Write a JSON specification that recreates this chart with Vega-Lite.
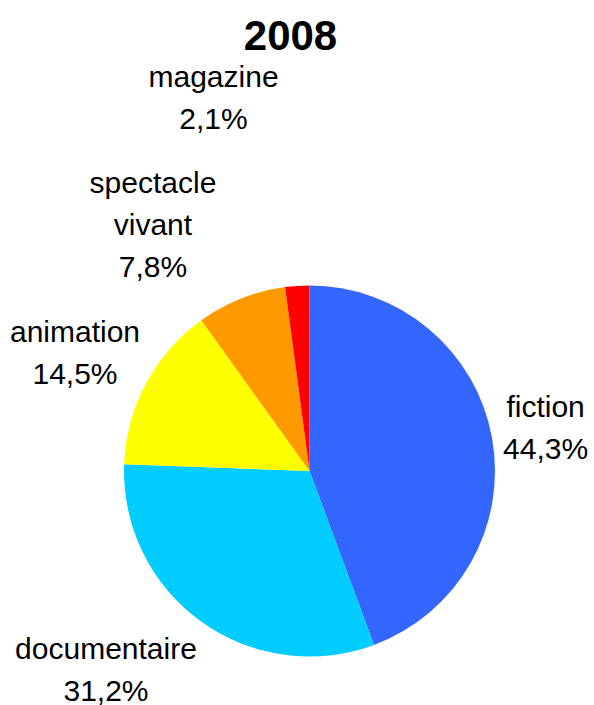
{
  "$schema": "https://vega.github.io/schema/vega-lite/v6.json",
  "autosize": {"type": "none"},
  "width": 371,
  "height": 371,
  "padding": {"left": 124, "top": 285.5, "right": 99, "bottom": 48.5},
  "background": "white",
  "config": {"view": {"stroke": null}},
  "title": {
    "text": "2008",
    "font": "Liberation Sans",
    "fontSize": 42,
    "fontWeight": "bold",
    "color": "black",
    "anchor": "middle",
    "dx": -19
  },
  "data": {
    "values": [
      {"genre": "fiction", "share": 44.3, "lines": ["fiction", "44,3%"]},
      {"genre": "documentaire", "share": 31.2, "lines": ["documentaire", "31,2%"]},
      {"genre": "animation", "share": 14.5, "lines": ["animation", "14,5%"]},
      {"genre": "spectacle vivant", "share": 7.8, "lines": ["spectacle", "vivant", "7,8%"]},
      {"genre": "magazine", "share": 2.1, "lines": ["magazine", "2,1%"]}
    ]
  },
  "encoding": {
    "theta": {"field": "share", "type": "quantitative", "stack": true},
    "order": {"field": "share", "type": "quantitative", "sort": "descending"}
  },
  "layer": [
    {
      "mark": {"type": "arc", "stroke": null},
      "encoding": {
        "color": {
          "field": "genre",
          "type": "nominal",
          "scale": {
            "domain": ["fiction", "documentaire", "animation", "spectacle vivant", "magazine"],
            "range": ["#3366FF", "#00CCFF", "#FFFF00", "#FF9900", "#FF0000"]
          },
          "legend": null
        }
      }
    },
    {
      "mark": {
        "type": "text",
        "radius": 230,
        "align": "center",
        "baseline": "alphabetic",
        "font": "Liberation Sans",
        "fontSize": 30,
        "lineHeight": 42,
        "color": "black",
        "dx": {"expr": "({'fiction': 9.7, 'documentaire': -68.8, 'animation': -31.8, 'spectacle vivant': -71.8, 'magazine': -80.8})[datum.genre]"},
        "dy": {"expr": "({'fiction': -13.3, 'documentaire': 1.5, 'animation': -20.3, 'spectacle vivant': -64.1, 'magazine': -154.5})[datum.genre]"}
      },
      "encoding": {
        "text": {"field": "lines"}
      }
    }
  ]
}
